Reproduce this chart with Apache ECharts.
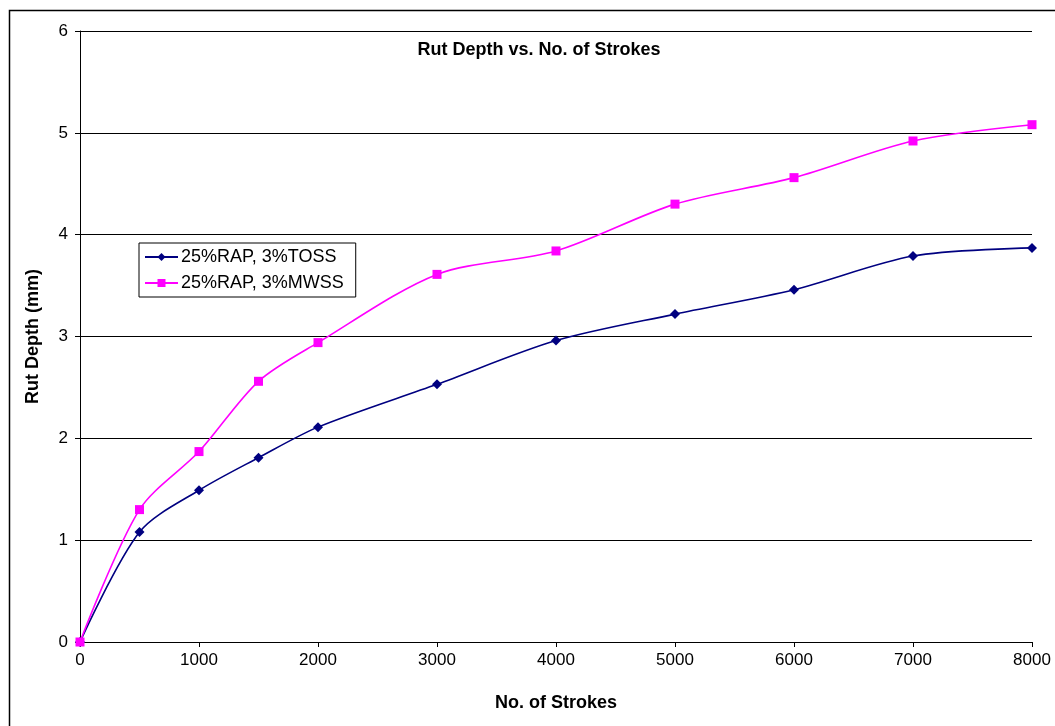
<!DOCTYPE html>
<html><head><meta charset="utf-8">
<script src="https://cdn.jsdelivr.net/npm/echarts@6/dist/echarts.min.js"></script>
<style>html,body{margin:0;padding:0;background:#fff}#c{width:1055px;height:726px}</style>
</head><body><div id="c"></div>
<script>
const strokes = [0, 500, 1000, 1500, 2000, 3000, 4000, 5000, 6000, 7000, 8000];
const toss = [0, 1.08, 1.49, 1.81, 2.11, 2.53, 2.96, 3.22, 3.46, 3.79, 3.87];
const mwss = [0, 1.30, 1.87, 2.56, 2.94, 3.61, 3.84, 4.30, 4.56, 4.92, 5.08];
const seriesNames = ['25%RAP, 3%TOSS', '25%RAP, 3%MWSS'];
const xTicks = [0, 1000, 2000, 3000, 4000, 5000, 6000, 7000, 8000];
const yTicks = [0, 1, 2, 3, 4, 5, 6];

const pair = (xs, ys) => xs.map((x, i) => [x, ys[i]]);
const font = 'Liberation Sans, Arial, sans-serif';
const chart = echarts.init(document.getElementById('c'));
chart.setOption({
  animation: false,
  backgroundColor: '#fff',
  title: {
    text: 'Rut Depth vs. No. of Strokes',
    left: 534, top: 36, textAlign: 'center',
    textStyle: { fontFamily: font, fontSize: 18, fontWeight: 'bold', color: '#000' }
  },
  grid: { left: 80, top: 31, right: 1055 - 1032, bottom: 726 - 642 },
  legend: {
    left: 139, top: 243, orient: 'vertical',
    itemGap: 8, itemWidth: 33, itemHeight: 10, padding: [5, 12, 5, 5],
    borderColor: '#000', borderWidth: 1,
    textStyle: { fontFamily: font, fontSize: 18, color: '#000', padding: [0, 0, 0, -2] },
    data: seriesNames
  },
  xAxis: {
    type: 'value', min: 0, max: 8000, interval: 1000,
    name: 'No. of Strokes', nameLocation: 'middle', nameGap: 52,
    nameTextStyle: { fontFamily: font, fontSize: 18, fontWeight: 'bold', color: '#000' },
    axisLine: { lineStyle: { color: '#000', width: 1 } },
    axisTick: { show: true, length: 5, lineStyle: { color: '#000' } },
    axisLabel: { fontFamily: font, fontSize: 17, color: '#000', margin: 10,
      formatter: v => xTicks.includes(v) ? String(v) : '' },
    splitLine: { show: false }
  },
  yAxis: {
    type: 'value', min: 0, max: 6, interval: 1,
    name: 'Rut Depth (mm)', nameLocation: 'middle', nameGap: 38, nameRotate: 90,
    nameTextStyle: { fontFamily: font, fontSize: 18, fontWeight: 'bold', color: '#000' },
    axisLine: { show: true, lineStyle: { color: '#000', width: 1 } },
    axisTick: { show: true, length: 5, lineStyle: { color: '#000' } },
    axisLabel: { fontFamily: font, fontSize: 17, color: '#000', margin: 12,
      formatter: v => yTicks.includes(v) ? String(v) : '' },
    splitLine: { show: true, lineStyle: { color: '#000', width: 1 } }
  },
  series: [
    {
      name: seriesNames[0], type: 'line', data: pair(strokes, toss), smooth: 0.3,
      symbol: 'diamond', symbolSize: 10,
      itemStyle: { color: '#000080' }, lineStyle: { color: '#000080', width: 1.6 }
    },
    {
      name: seriesNames[1], type: 'line', data: pair(strokes, mwss), smooth: 0.3,
      symbol: 'rect', symbolSize: 9,
      itemStyle: { color: '#ff00ff' }, lineStyle: { color: '#ff00ff', width: 1.6 }
    }
  ],
  graphic: [{
    type: 'rect', shape: { x: 9.5, y: 10.5, width: 1200, height: 900 },
    style: { fill: 'none', stroke: '#000', lineWidth: 1.5 }, silent: true, z: -1
  }]
});
</script></body></html>
